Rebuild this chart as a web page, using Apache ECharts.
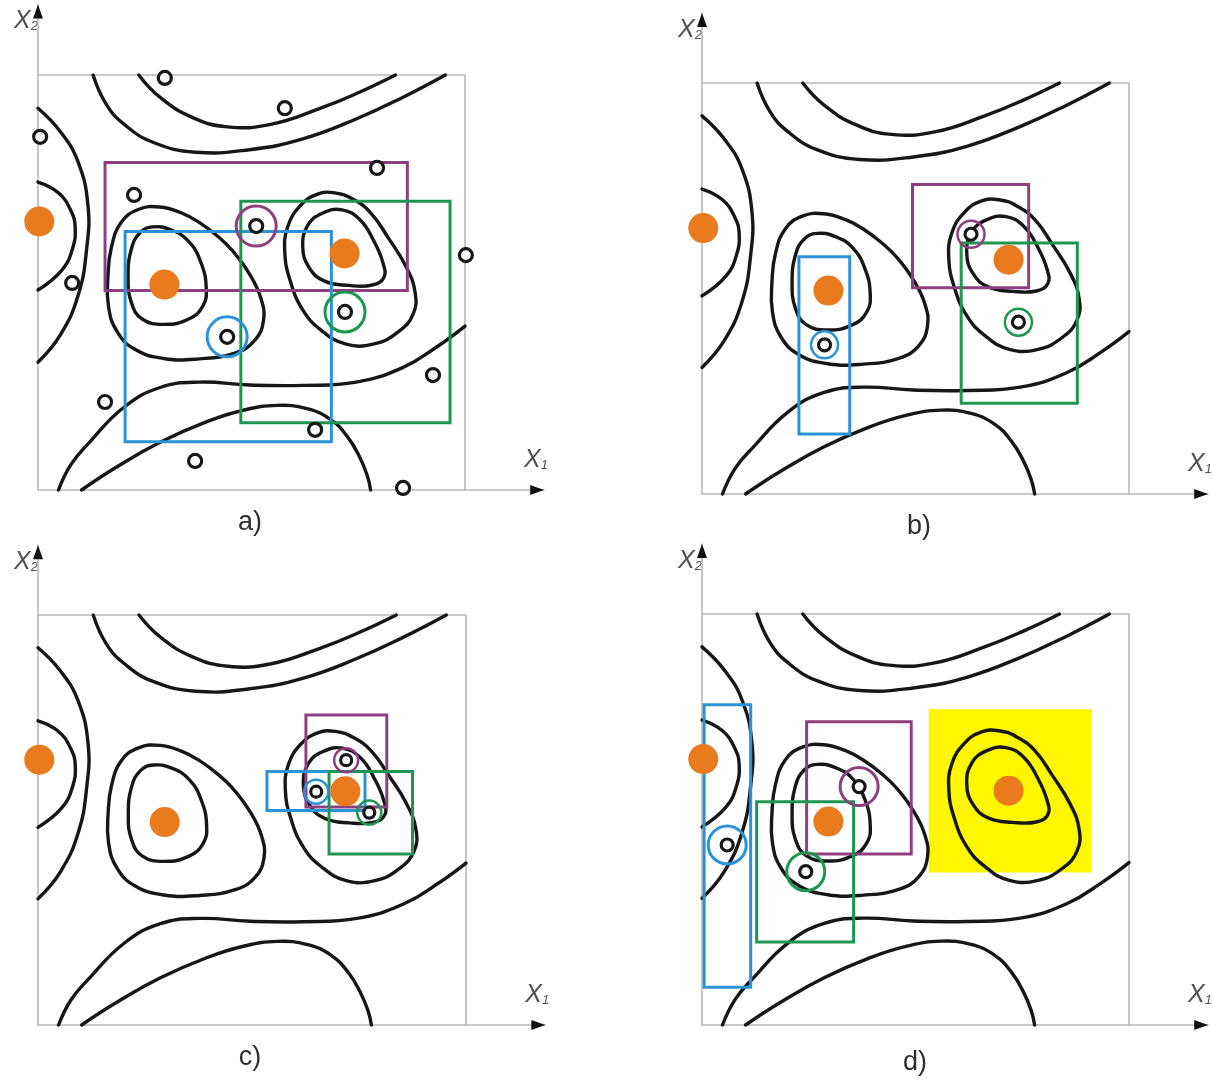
<!DOCTYPE html>
<html><head><meta charset="utf-8">
<script src="https://cdn.jsdelivr.net/npm/echarts@6/dist/echarts.min.js"></script>
<style>html,body{margin:0;padding:0;background:#fff}#c{width:1213px;height:1087px}</style>
</head><body><div id="c"></div>
<script>
// ---------- contour lines of the objective landscape (data units, box = 0..100) ----------
const curveTopInner = [[23.6,100],[28.6,94.6],[36.1,89.8],[44.4,87.5],[54.5,88.1],[66.2,92.0],[75.4,95.9],[83.7,100]];
const curveTopOuter = [[12.9,100],[16.0,92.9],[20.2,88.1],[26.9,83.8],[36.9,81.4],[49.5,82.0],[62.0,84.6],[74.5,89.4],[85.4,94.6],[95.4,100]];
const curveLeftOuter = [[0,92.0],[5.2,86.4],[9.4,79.0],[11.7,68.6],[11.4,58.2],[9.4,46.9],[5.2,37.3],[0,30.8]];
const curveLeftInner = [[0,74.2],[4.8,71.6],[7.7,67.3],[8.7,63.4],[8.1,58.2],[5.6,53.0],[0,48.2]];
const loopMidOuter = [[28.5,68.2],[33.5,66.8],[38.0,64.3],[42.0,61.2],[45.6,57.6],[49.5,52.1],[52.2,46.2],[52.8,40.8],[50.7,36.0],[46.1,33.0],[37.8,31.6],[29.4,31.7],[22.7,33.9],[18.5,38.2],[16.5,44.3],[16.4,51.8],[17.2,58.5],[19.5,64.5],[23.5,67.6]];
const loopMidInner = [[26.9,63.4],[31.1,62.7],[35.3,59.9],[38.2,54.7],[39.4,48.6],[38.6,44.3],[35.3,41.2],[29.4,39.9],[24.4,41.2],[21.9,45.1],[21.1,51.2],[21.9,58.2],[24.0,62.1]];
const loopRightOuter = [[69.5,71.6],[73.7,70.1],[77.9,66.8],[82.0,60.8],[86.2,53.8],[88.3,47.7],[87.9,42.5],[84.5,38.2],[78.7,35.2],[72.0,35.2],[66.2,38.6],[62.0,43.4],[59.1,50.3],[57.8,57.3],[58.5,63.5],[61.5,68.6],[65.5,71.3]];
const loopRightInner = [[71.2,67.5],[75.4,65.1],[78.7,59.9],[80.8,54.7],[81.0,51.2],[78.3,49.4],[72.8,49.3],[67.0,50.4],[63.5,53.6],[62.0,58.6],[63.2,63.8],[66.6,66.7]];
const curveMidLong = [[100,39.5],[93.7,34.7],[85.4,29.5],[74.5,26.0],[62.0,25.2],[49.5,25.3],[37.8,26.0],[28.6,24.7],[20.2,20.0],[11.9,11.3],[7.7,6.1],[4.8,0]];
const curveBottom = [[10.2,0],[18.5,5.6],[28.6,11.5],[39.4,16.4],[48.0,19.2],[56.0,20.4],[63.0,19.6],[68.5,17.0],[72.5,12.8],[75.3,8.0],[77.1,3.5],[77.9,0]];
const boxEdge = [[0,100],[100,100],[100,0]];

// ---------- optima (orange) ----------
const optima = [[0.3,64.7],[29.6,49.5],[71.8,57.0]];

// ---------- panel a ----------
const samplesA = [[29.7,99.3],[57.8,92.0],[0.5,85.1],[22.5,71.1],[79.4,77.6],[51.1,63.6],[100.2,56.6],[8.0,49.9],[71.9,42.9],[44.3,36.9],[92.5,27.7],[15.7,21.2],[64.9,14.5],[36.8,7.0],[85.5,0.5]];
const ringsA = [[51.1,63.6],[44.3,36.9],[71.9,42.9]];              // purple, blue, green
const rectsA = [[15.7,48.1,86.5,78.9],[20.4,11.6,68.7,62.3],[47.5,16.2,96.5,69.6]];

// ---------- panel b ----------
const samplesB = [[63.0,63.2],[28.7,36.3],[74.1,41.8]];
const ringsB = samplesB;
const rectsB = [[49.3,50.2,76.5,75.3],[22.7,14.6,34.6,57.7],[60.7,22.1,87.9,61.1]];

// ---------- panel c ----------
const samplesC = [[72.0,64.6],[65.0,56.9],[77.4,51.8]];
const ringsC = samplesC;
const rectsC = [[62.6,53.2,81.5,75.6],[53.5,52.3,76.4,61.8],[68.0,41.7,87.5,61.8]];

// ---------- panel d ----------
const samplesD = [[36.8,58.0],[5.9,43.8],[24.3,37.3]];
const ringsD = samplesD;
const rectsD = [[24.5,41.6,49.0,73.8],[0.5,9.2,11.4,77.9],[12.8,20.2,35.5,54.3]];
const yellowD = [[53.1,37.1,91.3,76.8]];

const captions = ['a)','b)','c)','d)'];

// ---------- styles / layout ----------
const COL = ['#8e3f7f','#2a93d5','#1f9650'];
const ORANGE = '#e97a1e';
const INK = '#171717';
const AXIS = '#b8b8b8';
const XMAX = 118.5, YMAX = 117;

const layout = [
  {L:38, R:465, T:75,  B:490,  ring:40, ringW:3,   mk:13, capX:250, capY:523},
  {L:702,R:1130,T:83,  B:494,  ring:27, ringW:2.5, mk:12, capX:919, capY:527},
  {L:38, R:466, T:615, B:1025, ring:24, ringW:2.5, mk:11, capX:250, capY:1058},
  {L:702,R:1130,T:614, B:1025, ring:38, ringW:3,   mk:12, capX:915, capY:1063}
];
const panelData = [
  {samples:samplesA, rings:ringsA, rects:rectsA, yellow:[]},
  {samples:samplesB, rings:ringsB, rects:rectsB, yellow:[]},
  {samples:samplesC, rings:ringsC, rects:rectsC, yellow:[]},
  {samples:samplesD, rings:ringsD, rects:rectsD, yellow:yellowD}
];
const curves = [
  [curveTopInner,false],[curveTopOuter,false],[curveLeftOuter,false],[curveLeftInner,false],
  [loopMidOuter,true],[loopMidInner,true],[loopRightOuter,true],[loopRightInner,true],
  [curveMidLong,false],[curveBottom,false]
];

const grid = [], xAxis = [], yAxis = [], series = [], graphic = [];
const nameStyle = {
  color:'#505050', fontStyle:'italic', fontFamily:'Liberation Sans',
  rich:{ x:{fontSize:25, fontStyle:'italic', color:'#505050', fontFamily:'Liberation Sans'},
         s:{fontSize:13, fontStyle:'italic', color:'#505050', fontFamily:'Liberation Sans', padding:[10,0,0,0]} }
};

function pathSeries(i, pts, closed, color, width, z) {
  return {
    type:'custom', coordinateSystem:'cartesian2d', xAxisIndex:i, yAxisIndex:i,
    data: pts, encode:{x:0, y:1}, clip:false, silent:true, z:z,
    renderItem(params, api) {
      if (params.dataIndex !== 0) return null;
      const p = pts.map(d => api.coord(d));
      return {type: closed ? 'polygon' : 'polyline',
              shape:{points:p, smooth: color === INK ? 0.45 : 0},
              style:{fill:'none', stroke:color, lineWidth:width, lineJoin:'round', lineCap:'round'}};
    }
  };
}
function rectSeries(i, rects, strokeColors, fill, z) {
  return {
    type:'custom', coordinateSystem:'cartesian2d', xAxisIndex:i, yAxisIndex:i,
    data: rects, encode:{x:[0,2], y:[1,3]}, clip:false, silent:true, z:z,
    renderItem(params, api) {
      const a = api.coord([api.value(0), api.value(3)]);
      const b = api.coord([api.value(2), api.value(1)]);
      return {type:'rect', shape:{x:a[0], y:a[1], width:b[0]-a[0], height:b[1]-a[1]},
              style: fill ? {fill:fill, stroke:'none'} :
                            {fill:'none', stroke:strokeColors[params.dataIndex % strokeColors.length], lineWidth:3}};
    }
  };
}

layout.forEach((g, i) => {
  const w = (g.R - g.L), h = (g.B - g.T);
  grid.push({left:g.L, top:g.B - h * YMAX / 100, width:w * XMAX / 100, height:h * YMAX / 100, containLabel:false});
  xAxis.push({type:'value', gridIndex:i, min:0, max:XMAX,
    axisLine:{show:true, onZero:false, lineStyle:{color:AXIS, width:1.6}},
    axisTick:{show:false}, axisLabel:{show:false}, splitLine:{show:false},
    name:'{x|X}{s|1}', nameLocation:'end', nameGap:4,
    nameTextStyle:Object.assign({align:'right', verticalAlign:'bottom', padding:[0,0,17,0]}, nameStyle)});
  yAxis.push({type:'value', gridIndex:i, min:0, max:YMAX,
    axisLine:{show:true, onZero:false, lineStyle:{color:AXIS, width:1.6}},
    axisTick:{show:false}, axisLabel:{show:false}, splitLine:{show:false},
    name:'{x|X}{s|2}', nameLocation:'end', nameGap:-17,
    nameTextStyle:Object.assign({align:'right', verticalAlign:'middle', padding:[0,0,0,0]}, nameStyle)});

  const pd = panelData[i];
  if (pd.yellow.length) series.push(rectSeries(i, pd.yellow, null, '#fff700', 1));
  series.push(pathSeries(i, boxEdge, false, AXIS, 1.6, 2));
  curves.forEach(c => series.push(pathSeries(i, c[0], c[1], INK, 3.4, 3)));
  series.push(rectSeries(i, pd.rects, COL, null, 4));
  series.push({type:'scatter', xAxisIndex:i, yAxisIndex:i, z:5, silent:true, clip:false,
    symbol:'circle', symbolSize:g.ring,
    data: pd.rings.map((p, k) => ({value:p, itemStyle:{borderColor:COL[k]}})),
    itemStyle:{color:'rgba(0,0,0,0)', borderWidth:g.ringW, opacity:1}});
  series.push({type:'scatter', xAxisIndex:i, yAxisIndex:i, z:6, silent:true, clip:false,
    symbol:'circle', symbolSize:g.mk, data: pd.samples,
    itemStyle:{color:'#ffffff', borderColor:INK, borderWidth:3.2, opacity:1}});
  series.push({type:'scatter', xAxisIndex:i, yAxisIndex:i, z:7, silent:true, clip:false,
    symbol:'circle', symbolSize:30, data: optima,
    itemStyle:{color:ORANGE, opacity:1}});
  series.push({type:'scatter', xAxisIndex:i, yAxisIndex:i, z:8, silent:true, clip:false,
    symbol:'triangle', symbolSize:[10,14],
    data:[{value:[XMAX - 1.6, 0], symbolRotate:-90}, {value:[0, YMAX - 1.7], symbolRotate:0}],
    itemStyle:{color:'#111', opacity:1}});

  graphic.push({type:'text', x:g.capX, y:g.capY, silent:true,
    style:{text:captions[i], fill:'#2e2e2e', font:'27px "Liberation Sans"', align:'center', verticalAlign:'middle'}});
});

const chart = echarts.init(document.getElementById('c'), null, {renderer:'canvas'});
chart.setOption({animation:false, backgroundColor:'#ffffff', grid, xAxis, yAxis, series, graphic});
</script>
</body></html>
